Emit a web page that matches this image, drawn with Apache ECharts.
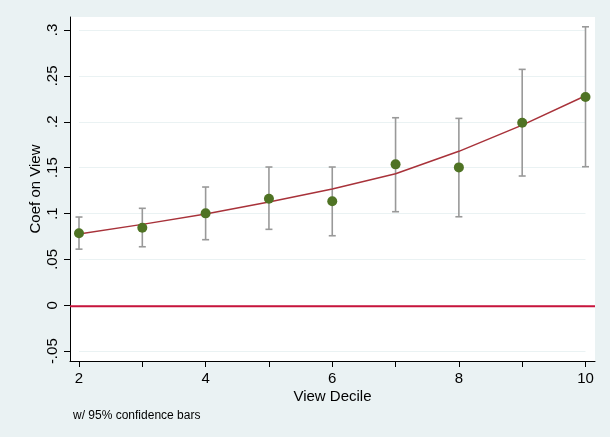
<!DOCTYPE html>
<html>
<head>
<meta charset="UTF-8">
<title>Coef on View</title>
<script src="https://cdn.jsdelivr.net/npm/echarts@6/dist/echarts.min.js"></script>
<style>
  html, body { margin: 0; padding: 0; background: #eaf2f3; }
  #chart1 { width: 610px; height: 437px; }
</style>
</head>
<body>
<div id="chart1"></div>
<script type="text/javascript">
// data
var deciles = [2, 3, 4, 5, 6, 7, 8, 9, 10];
var coefs   = [0.0785, 0.0845, 0.1002, 0.1161, 0.1133, 0.1536, 0.1503, 0.1989, 0.2269];
var ciLow   = [0.0612, 0.0638, 0.0715, 0.0828, 0.0758, 0.1020, 0.0965, 0.1409, 0.1510];
var ciHigh  = [0.0962, 0.1057, 0.1289, 0.1507, 0.1507, 0.2044, 0.2037, 0.2571, 0.3035];
var fitted  = [0.0777, 0.0882, 0.0995, 0.1125, 0.1268, 0.1434, 0.1678, 0.1964, 0.2283];

var font = 'Liberation Sans, Arial, sans-serif';

function yFmt(v) {
	var r = Math.round(v * 100) / 100;
	if (r === 0) return '0';
	return String(r).replace('0.', '.');
}

var chart1 = echarts.init(document.getElementById('chart1'));
var option = {
	backgroundColor: '#eaf2f3',
	animation: false,
	textStyle: { fontFamily: font },
	title: {
		text: 'w/ 95% confidence bars',
		left: 73, top: 410, padding: 0,
		textStyle: { fontSize: 12, fontWeight: 'normal', color: '#000', fontFamily: font }
	},
	grid: [
		// outer plot region (white, carries the axis lines)
		{ left: 70, right: 15, top: 17, bottom: 76, show: true, backgroundColor: '#fff', borderWidth: 0 },
		// inner grid where 2..10 and -.05..3 sit
		{ left: 79, right: 24.5, top: 30, bottom: 85.8 }
	],
	xAxis: [
		{
			gridIndex: 0, type: 'value', min: 1.858, max: 10.15,
			name: 'View Decile', nameLocation: 'middle', nameGap: 28,
			nameTextStyle: { fontSize: 15, color: '#000', fontFamily: font },
			axisLine: { show: true, onZero: false, lineStyle: { color: '#000', width: 1 } },
			axisTick: { show: false }, axisLabel: { show: false }, splitLine: { show: false }
		},
		{
			gridIndex: 1, type: 'value', min: 2, max: 10, interval: 1, offset: 9.8,
			axisLine: { show: false, onZero: false },
			axisTick: { show: true, length: 6, lineStyle: { color: '#000' } },
			axisLabel: {
				margin: 10, fontSize: 15, color: '#000', fontFamily: font,
				formatter: function (v) { return v % 2 === 0 ? String(v) : ''; }
			},
			splitLine: { show: false }
		}
	],
	yAxis: [
		{
			gridIndex: 0, type: 'value', min: -0.0596, max: 0.3142,
			name: 'Coef on View', nameLocation: 'middle', nameGap: 27,
			nameTextStyle: { fontSize: 15, color: '#000', fontFamily: font },
			axisLine: { show: true, onZero: false, lineStyle: { color: '#000', width: 1 } },
			axisTick: { show: false }, axisLabel: { show: false }, splitLine: { show: false }
		},
		{
			gridIndex: 1, type: 'value', min: -0.05, max: 0.3, interval: 0.05, offset: 9,
			axisLine: { show: false, onZero: false },
			axisTick: { show: true, length: 6, lineStyle: { color: '#000' } },
			axisLabel: {
				rotate: 90, margin: 10, fontSize: 15, color: '#000', fontFamily: font,
				formatter: yFmt
			},
			splitLine: { show: true, lineStyle: { color: '#eaf2f3', width: 1 } }
		}
	],
	series: [
		{
			// zero line
			type: 'line', xAxisIndex: 0, yAxisIndex: 0,
			data: [[1.858, 0], [10.15, 0]],
			symbol: 'none', silent: true,
			lineStyle: { color: '#c8143c', width: 2 }, z: 2
		},
		{
			// confidence bars
			type: 'custom', xAxisIndex: 1, yAxisIndex: 1,
			data: deciles.map(function (d, i) { return [d, ciLow[i], ciHigh[i]]; }),
			renderItem: function (params, api) {
				var lo = api.coord([api.value(0), api.value(1)]);
				var hi = api.coord([api.value(0), api.value(2)]);
				var w = 3.5;
				var st = { stroke: '#999999', lineWidth: 1.6 };
				return {
					type: 'group',
					children: [
						{ type: 'line', shape: { x1: lo[0], y1: lo[1], x2: hi[0], y2: hi[1] }, style: st },
						{ type: 'line', shape: { x1: lo[0] - w, y1: lo[1], x2: lo[0] + w, y2: lo[1] }, style: st },
						{ type: 'line', shape: { x1: hi[0] - w, y1: hi[1], x2: hi[0] + w, y2: hi[1] }, style: st }
					]
				};
			},
			clip: false, z: 3
		},
		{
			// fitted line
			type: 'line', xAxisIndex: 1, yAxisIndex: 1,
			data: deciles.map(function (d, i) { return [d, fitted[i]]; }),
			symbol: 'none', smooth: false, clip: false,
			lineStyle: { color: '#a8323a', width: 1.5 }, z: 4
		},
		{
			// coefficients
			type: 'scatter', xAxisIndex: 1, yAxisIndex: 1,
			data: deciles.map(function (d, i) { return [d, coefs[i]]; }),
			symbol: 'circle', symbolSize: 10, clip: false,
			itemStyle: { color: '#4f7324', opacity: 1 }, z: 5
		}
	]
};
chart1.setOption(option);
</script>
</body>
</html>
